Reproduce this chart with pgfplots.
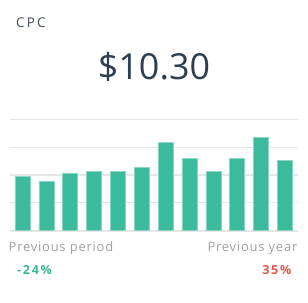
\documentclass[border=0pt]{standalone}
\usepackage{pgfplots}
\pgfplotsset{compat=1.18}
\usepackage{fontspec}
\setmainfont{Open Sans}
\definecolor{barc}{HTML}{3BBA9C}
\definecolor{baredge}{HTML}{8ED6C4}
\definecolor{gridc}{HTML}{E6E6E6}
\definecolor{titlec}{HTML}{2C3E50}
\definecolor{labc}{HTML}{3E4A5C}
\definecolor{grayc}{HTML}{A0A0A0}
\definecolor{greenc}{HTML}{3CB895}
\definecolor{redc}{HTML}{E5574B}
\begin{document}
\begin{tikzpicture}
\path[use as bounding box] (0bp,0bp) rectangle (308bp,-303bp);
\node[anchor=base west,text=labc,font=\fontsize{13.5}{15}\selectfont\addfontfeature{LetterSpace=16},inner sep=0pt] at (16bp,-27bp) {CPC};
\node[anchor=base,text=titlec,font=\fontsize{36}{40}\selectfont,inner sep=0pt] at (154bp,-79bp) {\$10.30};
\begin{axis}[
  at={(10bp,-230.7bp)}, anchor=south west,
  scale only axis, width=288bp, height=111.4bp,
  xmin=-0.524, xmax=11.55, ymin=0, ymax=4,
  axis line style={draw=none},
  xtick=\empty, ytick={1,2,3,4}, yticklabels={},
  major tick length=0pt,
  ymajorgrids, grid style={gridc, line width=1.2bp},
  extra y ticks={0}, extra y tick labels={},
  extra y tick style={grid style={gridc, line width=2.4bp}},
  clip=false,
]
\addplot[ybar, bar width=15bp, fill=barc, draw=baredge, line width=0.6bp] coordinates {
(0,1.95) (1,1.77) (2,2.05) (3,2.13) (4,2.13) (5,2.27)
(6,3.17) (7,2.59) (8,2.13) (9,2.59) (10,3.35) (11,2.53)};
\end{axis}
\node[anchor=base west,text=grayc,font=\fontsize{13}{15}\selectfont\addfontfeature{LetterSpace=6},inner sep=0pt] at (8.5bp,-251bp) {Previous period};
\node[anchor=base east,text=grayc,font=\fontsize{13}{15}\selectfont\addfontfeature{LetterSpace=6},inner sep=0pt] at (297.5bp,-251bp) {Previous year};
\node[anchor=base west,text=greenc,font=\fontsize{12.5}{14}\selectfont\bfseries\addfontfeature{LetterSpace=14},inner sep=0pt] at (17bp,-274.3bp) {-24\%};
\node[anchor=base east,text=redc,font=\fontsize{12.5}{14}\selectfont\bfseries\addfontfeature{LetterSpace=14},inner sep=0pt] at (291.5bp,-274.3bp) {35\%};
\end{tikzpicture}
\end{document}
